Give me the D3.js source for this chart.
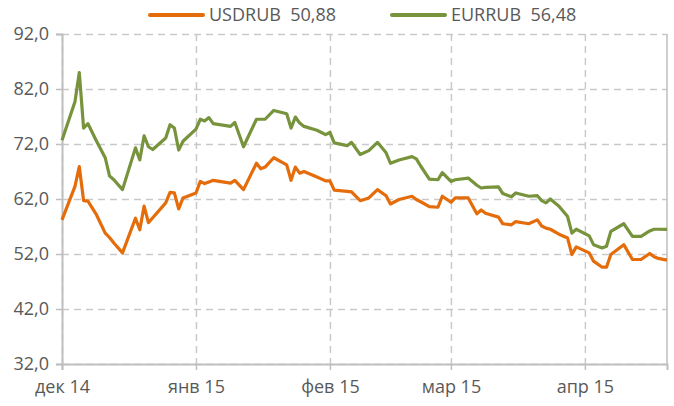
<!DOCTYPE html>
<html>
<head>
<meta charset="utf-8">
<script src="https://cdn.jsdelivr.net/npm/d3@7"></script>
<style>
  body { margin: 0; background: #fff; }
  text { font-family: "Open Sans", sans-serif; fill: #595959; }
</style>
</head>
<body>
<script>
// Data
var dates = [
  "2014-12-01","2014-12-04","2014-12-05","2014-12-06","2014-12-07","2014-12-09","2014-12-11","2014-12-12",
  "2014-12-13","2014-12-15","2014-12-18","2014-12-19","2014-12-20","2014-12-21","2014-12-22","2014-12-25",
  "2014-12-26","2014-12-27","2014-12-28","2014-12-29",
  "2015-01-01","2015-01-02","2015-01-03","2015-01-04","2015-01-05","2015-01-09","2015-01-10","2015-01-12",
  "2015-01-15","2015-01-16","2015-01-17","2015-01-19","2015-01-22","2015-01-23","2015-01-24","2015-01-25",
  "2015-01-26","2015-01-29","2015-01-31",
  "2015-02-01","2015-02-02","2015-02-05","2015-02-06","2015-02-08","2015-02-10","2015-02-12","2015-02-14",
  "2015-02-15","2015-02-17","2015-02-20","2015-02-21","2015-02-22","2015-02-24","2015-02-26","2015-02-27",
  "2015-03-01","2015-03-02","2015-03-05","2015-03-07","2015-03-08","2015-03-09","2015-03-12","2015-03-13",
  "2015-03-15","2015-03-16","2015-03-19","2015-03-21","2015-03-22","2015-03-23","2015-03-24","2015-03-26",
  "2015-03-28","2015-03-29","2015-03-30",
  "2015-04-02","2015-04-03","2015-04-05","2015-04-06","2015-04-07","2015-04-10","2015-04-12","2015-04-14",
  "2015-04-16","2015-04-17","2015-04-18","2015-04-20"
];

var usdrub = [
  58.2, 64.3, 67.9, 61.7, 61.6, 59.1, 55.8, 55.0,
  54.0, 52.2, 58.5, 56.4, 60.7, 57.7, 58.6, 61.3,
  63.2, 63.1, 60.2, 62.2,
  63.1, 65.2, 64.8, 65.1, 65.4, 64.9, 65.4, 63.7,
  68.5, 67.5, 67.8, 69.5, 68.2, 65.4, 67.8, 66.7,
  67.0, 66.0, 65.3,
  65.3, 63.6, 63.4, 63.3, 61.7, 62.2, 63.7, 62.6,
  61.1, 61.9, 62.5, 61.9, 61.5, 60.6, 60.5, 62.5,
  61.4, 62.2, 62.2, 59.3, 60.0, 59.4, 58.7, 57.5,
  57.3, 57.9, 57.5, 58.2, 57.1, 56.7, 56.5, 55.6,
  54.9, 51.9, 53.3,
  52.2, 50.7, 49.6, 49.6, 51.9, 53.7, 51.0, 51.0,
  52.1, 51.5, 51.2, 50.88
];

var eurrub = [
  72.7, 79.7, 85.0, 74.9, 75.7, 72.5, 69.5, 66.2,
  65.5, 63.7, 71.3, 69.1, 73.5, 71.5, 71.0, 73.1,
  75.5, 74.9, 70.9, 72.5,
  74.7, 76.5, 76.2, 76.8, 75.7, 75.2, 75.9, 71.5,
  76.5, 76.5, 76.5, 78.1, 77.5, 74.9, 76.9, 75.8,
  75.2, 74.5, 73.7,
  74.1, 72.2, 71.7, 72.3, 70.1, 70.8, 72.3, 70.4,
  68.5, 69.1, 69.7, 69.3, 68.0, 65.6, 65.5, 66.8,
  65.2, 65.5, 65.8, 64.5, 64.0, 64.1, 64.2, 63.0,
  62.4, 63.1, 62.5, 62.6, 61.7, 61.3, 62.0, 60.7,
  58.8, 55.8, 56.5,
  55.3, 53.7, 53.1, 53.4, 56.1, 57.5, 55.2, 55.2,
  56.2, 56.5, 56.5, 56.48
];

var yTicks = [32, 42, 52, 62, 72, 82, 92];
var monthTicks = ["2014-12-01", "2015-01-01", "2015-02-01", "2015-03-01", "2015-04-01"];
var monthLabels = ["дек 14", "янв 15", "фев 15", "мар 15", "апр 15"];
var seriesNames = ["USDRUB  50,88", "EURRUB  56,48"];
var seriesColors = ["#E46C0A", "#77933C"];

var W = 674, H = 406,
    margin = {top: 34, right: 7, bottom: 42, left: 62},
    width = W - margin.left - margin.right,
    height = H - margin.top - margin.bottom;

var parseDate = d3.timeParse("%Y-%m-%d");

var svg = d3.select("body").append("svg")
    .attr("width", W)
    .attr("height", H);

var g = svg.append("g")
    .attr("transform", "translate(" + margin.left + "," + margin.top + ")");

var x = d3.scaleTime()
    .domain([parseDate(dates[0]), parseDate(dates[dates.length - 1])])
    .range([0, width]);

var y = d3.scaleLinear()
    .domain([32, 92])
    .range([height, 0]);

var gridColor = "#c9c9c9", axisColor = "#bfbfbf";

// horizontal dashed gridlines
g.append("g")
    .call(d3.axisLeft(y).tickValues(yTicks).tickSize(-width).tickFormat(""))
    .call(function(s) {
        s.select(".domain").remove();
        s.selectAll(".tick line")
            .attr("stroke", gridColor)
            .attr("stroke-width", 1.5)
            .attr("stroke-dasharray", "7,5");
    });

// vertical dashed gridlines at month starts
g.append("g")
    .attr("transform", "translate(0," + height + ")")
    .call(d3.axisBottom(x).tickValues(monthTicks.map(parseDate)).tickSize(height).tickFormat(""))
    .call(function(s) {
        s.select(".domain").remove();
        s.selectAll(".tick line")
            .attr("transform", "translate(0," + (-height) + ")")
            .attr("stroke", gridColor)
            .attr("stroke-width", 1.5)
            .attr("stroke-dasharray", "7,5");
    });

// right border
g.append("line")
    .attr("x1", width).attr("x2", width)
    .attr("y1", 0).attr("y2", height)
    .attr("stroke", axisColor).attr("stroke-width", 1.5);

// y axis
g.append("g")
    .call(d3.axisLeft(y).tickValues(yTicks).tickSize(6).tickPadding(7)
        .tickFormat(function(d) { return d3.format(".1f")(d).replace(".", ","); }))
    .call(function(s) {
        s.select(".domain").attr("stroke", axisColor).attr("stroke-width", 2);
        s.selectAll(".tick line").attr("stroke", axisColor).attr("stroke-width", 1.5);
        s.selectAll(".tick text").attr("font-size", "18px").attr("fill", "#595959")
            .attr("font-family", "Open Sans, sans-serif");
    });

// x axis
g.append("g")
    .attr("transform", "translate(0," + height + ")")
    .call(d3.axisBottom(x).tickValues(monthTicks.map(parseDate)).tickSize(6).tickPadding(10)
        .tickFormat(function(d, i) { return monthLabels[i]; }))
    .call(function(s) {
        s.select(".domain").attr("stroke", axisColor).attr("stroke-width", 2);
        s.selectAll(".tick line").attr("stroke", axisColor).attr("stroke-width", 1.5);
        s.selectAll(".tick text").attr("font-size", "18px").attr("fill", "#595959")
            .attr("font-family", "Open Sans, sans-serif");
    });

// series lines
var line = d3.line()
    .x(function(d, i) { return x(parseDate(dates[i])); })
    .y(function(d) { return y(d); });

[usdrub, eurrub].forEach(function(vals, k) {
    g.append("path")
        .datum(vals)
        .attr("fill", "none")
        .attr("stroke", seriesColors[k])
        .attr("stroke-width", 3.2)
        .attr("stroke-linejoin", "round")
        .attr("d", line);
});

// legend
var legendX = [150, 392];
var legend = svg.append("g");
seriesNames.forEach(function(name, k) {
    legend.append("line")
        .attr("x1", legendX[k]).attr("x2", legendX[k] + 53)
        .attr("y1", 15).attr("y2", 15)
        .attr("stroke", seriesColors[k])
        .attr("stroke-width", 4)
        .attr("stroke-linecap", "round");
    legend.append("text")
        .attr("x", legendX[k] + 59)
        .attr("y", 15)
        .attr("dy", "0.35em")
        .attr("font-size", "18px")
        .style("white-space", "pre")
        .text(name);
});
</script>
</body>
</html>
